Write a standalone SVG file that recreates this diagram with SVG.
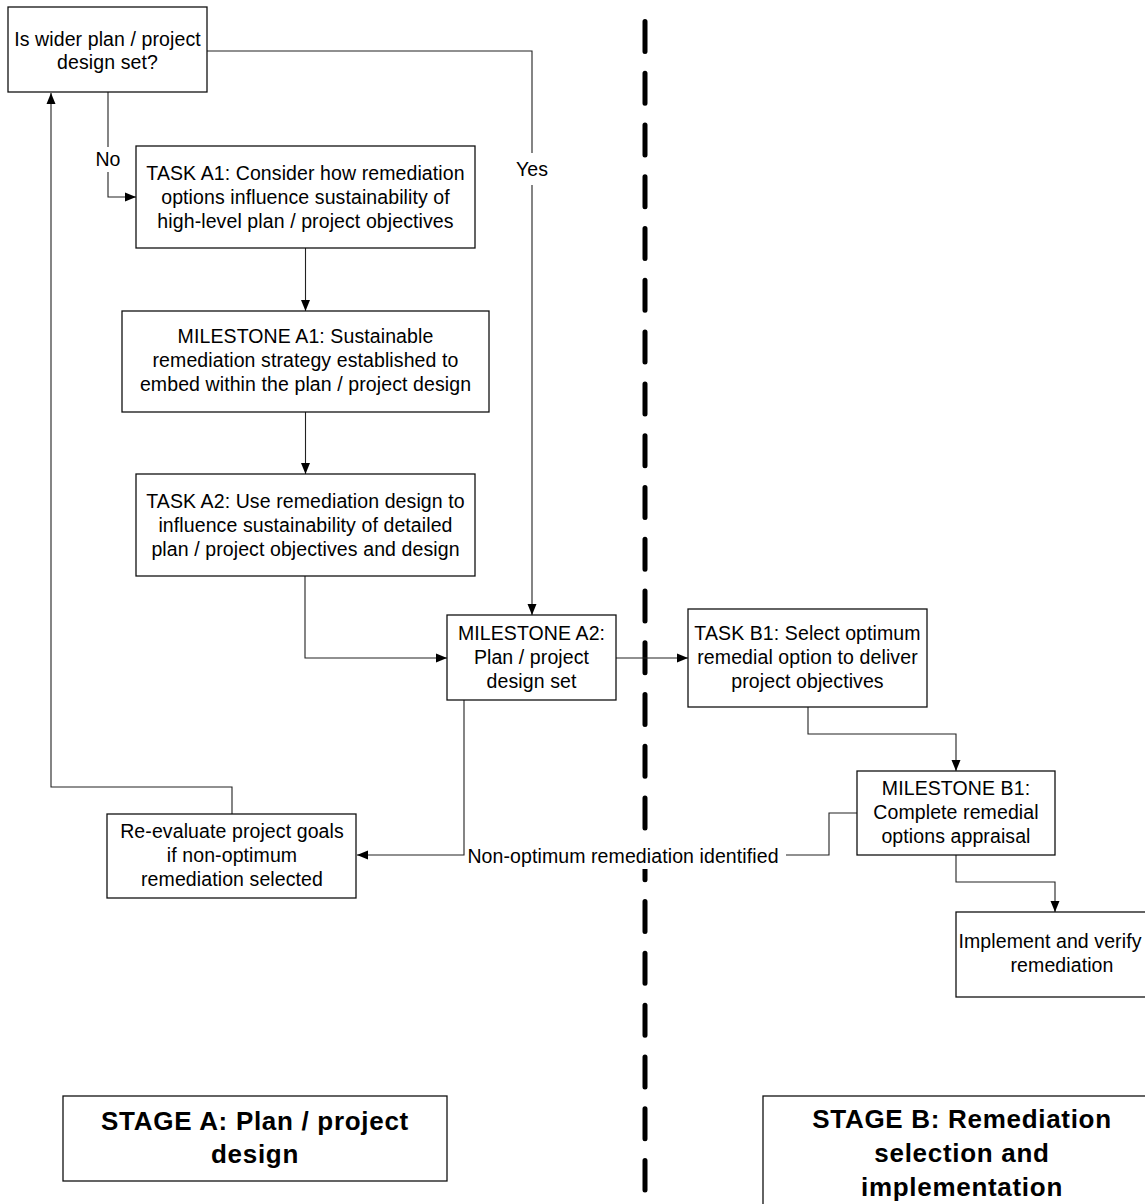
<svg xmlns="http://www.w3.org/2000/svg" width="1145" height="1204" viewBox="0 0 1145 1204">
  <style>
    .box { fill: #ffffff; stroke: #111111; stroke-width: 1.3; }
    .t { font-family: "Liberation Sans", Arial, sans-serif; font-size: 19.5px; fill: #000000; text-anchor: middle; letter-spacing: 0.1px; }
    .stage { font-family: "Liberation Sans", Arial, sans-serif; font-size: 26px; font-weight: bold; fill: #000000; text-anchor: middle; letter-spacing: 0.7px; }
    .wire { fill: none; stroke: #222222; stroke-width: 1.1; }
    .arrow { marker-end: url(#head); }
    .divider { stroke: #000000; stroke-width: 5; stroke-linecap: round; stroke-dasharray: 30 21.77; }
    .lblbg { fill: #ffffff; stroke: none; }
  </style>
  <defs>
    <marker id="head" markerUnits="userSpaceOnUse" markerWidth="12" markerHeight="10" refX="11" refY="5" orient="auto">
      <path d="M0,0.5 L11,5 L0,9.5 Z" fill="#000000"/>
    </marker>
  </defs>

  <rect width="1145" height="1204" fill="#ffffff"/>

  <!-- stage divider -->
  <line class="divider" x1="645" y1="21.5" x2="645" y2="1190"/>

  <!-- connectors -->
  <g id="connectors">
    <path class="wire arrow" d="M207,51 H532 V615"/>
    <rect class="lblbg" x="512" y="153" width="40" height="32"/>
    <text class="t" x="532" y="176">Yes</text>

    <path class="wire arrow" d="M108,92 V197 H136"/>
    <rect class="lblbg" x="95" y="147" width="26" height="25"/>
    <text class="t" x="108" y="166">No</text>

    <path class="wire arrow" d="M305.5,248 V311"/>
    <path class="wire arrow" d="M305.5,412 V474"/>
    <path class="wire arrow" d="M305,576 V658 H447"/>
    <path class="wire arrow" d="M616,658 H688"/>
    <path class="wire arrow" d="M808,707 V734 H956 V771"/>
    <path class="wire arrow" d="M956,855 V882 H1055 V912"/>

    <path class="wire" d="M857,813 H829 V855 H786"/>
    <rect class="lblbg" x="467" y="836" width="316" height="33"/>
    <text class="t" x="623" y="863">Non-optimum remediation identified</text>
    <path class="wire arrow" d="M464,700 V855 H357"/>

    <path class="wire arrow" d="M232,814 V787 H51 V93"/>
  </g>

  <!-- nodes -->
  <g id="q-design-set">
    <rect class="box" x="8" y="7" width="199" height="85"/>
    <text class="t" x="107.5" y="46">Is wider plan / project</text>
    <text class="t" x="107.5" y="69">design set?</text>
  </g>

  <g id="task-a1">
    <rect class="box" x="136" y="146" width="339" height="102"/>
    <text class="t" x="305.5" y="180">TASK A1: Consider how remediation</text>
    <text class="t" x="305.5" y="204">options influence sustainability of</text>
    <text class="t" x="305.5" y="228">high-level plan / project objectives</text>
  </g>

  <g id="milestone-a1">
    <rect class="box" x="122" y="311" width="367" height="101"/>
    <text class="t" x="305.5" y="343">MILESTONE A1: Sustainable</text>
    <text class="t" x="305.5" y="367">remediation strategy established to</text>
    <text class="t" x="305.5" y="391">embed within the plan  / project design</text>
  </g>

  <g id="task-a2">
    <rect class="box" x="136" y="474" width="339" height="102"/>
    <text class="t" x="305.5" y="508">TASK A2: Use remediation design to</text>
    <text class="t" x="305.5" y="532">influence sustainability of detailed</text>
    <text class="t" x="305.5" y="556">plan / project objectives and design</text>
  </g>

  <g id="milestone-a2">
    <rect class="box" x="447" y="615" width="169" height="85"/>
    <text class="t" x="531.5" y="640">MILESTONE A2:</text>
    <text class="t" x="531.5" y="664">Plan / project</text>
    <text class="t" x="531.5" y="688">design set</text>
  </g>

  <g id="reevaluate">
    <rect class="box" x="107" y="814" width="249" height="84"/>
    <text class="t" x="232" y="838">Re-evaluate project goals</text>
    <text class="t" x="232" y="862">if non-optimum</text>
    <text class="t" x="232" y="886">remediation selected</text>
  </g>

  <g id="task-b1">
    <rect class="box" x="688" y="609" width="239" height="98"/>
    <text class="t" x="807.5" y="640">TASK B1: Select optimum</text>
    <text class="t" x="807.5" y="664">remedial option to deliver</text>
    <text class="t" x="807.5" y="688">project objectives</text>
  </g>

  <g id="milestone-b1">
    <rect class="box" x="857" y="771" width="198" height="84"/>
    <text class="t" x="956" y="795">MILESTONE B1:</text>
    <text class="t" x="956" y="819">Complete remedial</text>
    <text class="t" x="956" y="843">options appraisal</text>
  </g>

  <g id="implement">
    <rect class="box" x="956" y="912" width="200" height="85"/>
    <text class="t" x="1050" y="948">Implement and verify</text>
    <text class="t" x="1062" y="972">remediation</text>
  </g>

  <g id="stage-a">
    <rect class="box" x="63" y="1096" width="384" height="85"/>
    <text class="stage" x="255" y="1130">STAGE A: Plan / project</text>
    <text class="stage" x="255" y="1163">design</text>
  </g>

  <g id="stage-b">
    <rect class="box" x="763" y="1096" width="400" height="120"/>
    <text class="stage" x="962" y="1128">STAGE B: Remediation</text>
    <text class="stage" x="962" y="1162">selection and</text>
    <text class="stage" x="962" y="1196">implementation</text>
  </g>
</svg>
